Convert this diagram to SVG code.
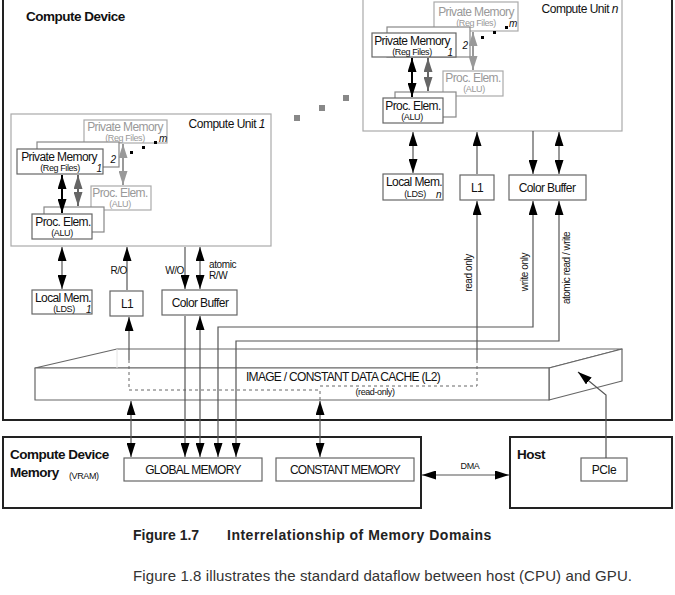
<svg xmlns="http://www.w3.org/2000/svg" width="675" height="595" viewBox="0 0 675 595">
<style>
text{font-family:"Liberation Sans",Arial,sans-serif;fill:#111}
.t12{font-size:12px;letter-spacing:-0.6px}
.t10{font-size:10px;letter-spacing:-0.4px}
.t9{font-size:9px;letter-spacing:-0.4px}
.m{text-anchor:middle}
.e{text-anchor:end}
.b{font-weight:bold;font-size:13.5px;letter-spacing:-0.5px}
.g{fill:#999}
.i{font-style:italic}
.box{fill:#fff;stroke:#666;stroke-width:1.2}
.gbox{fill:#fff;stroke:#aaa;stroke-width:1.2}
.mbox{fill:#fff;stroke:#888;stroke-width:1.2}
.frame{fill:none;stroke:#222;stroke-width:2}
.cu{fill:#fff;stroke:#aaa;stroke-width:1.2}
.c{fill:none;stroke:#555;stroke-width:1.2}
.d{fill:none;stroke:#666;stroke-width:1;stroke-dasharray:3 3}
.ak{stroke:#000;stroke-width:2;fill:none}
.ag{stroke:#666;stroke-width:2;fill:none}
.al{stroke:#999;stroke-width:2;fill:none}
.slab{fill:#fff;stroke:#666;stroke-width:1.2;stroke-linejoin:round}
.cap{font-size:14px;font-weight:bold;fill:#222}
.body{font-size:15px;fill:#333;letter-spacing:0.1px}
</style>
<defs>
<marker id="a" markerUnits="userSpaceOnUse" markerWidth="14" markerHeight="9" viewBox="0 0 14 9" refX="14" refY="4.5" orient="auto-start-reverse"><path d="M0,0L14,4.5L0,9z" fill="#000"/></marker>
<marker id="ag" markerUnits="userSpaceOnUse" markerWidth="14" markerHeight="9" viewBox="0 0 14 9" refX="14" refY="4.5" orient="auto-start-reverse"><path d="M0,0L14,4.5L0,9z" fill="#666"/></marker>
<marker id="al" markerUnits="userSpaceOnUse" markerWidth="14" markerHeight="9" viewBox="0 0 14 9" refX="14" refY="4.5" orient="auto-start-reverse"><path d="M0,0L14,4.5L0,9z" fill="#999"/></marker>
</defs>
<rect width="675" height="595" fill="#fff"/>

<g id="compute-device">
<rect class="frame" x="3" y="-5" width="669" height="425"/>
<text class="b" x="26" y="21">Compute Device</text>
<rect x="294" y="115" width="6" height="6" fill="#888"/>
<rect x="319" y="105" width="6" height="6" fill="#888"/>
<rect x="343" y="95" width="6" height="6" fill="#888"/>
</g>

<g id="compute-unit-n">
<rect class="cu" x="363" y="-5" width="259" height="136"/>
<text class="t12 e" x="618" y="13" style="letter-spacing:-0.5px">Compute Unit <tspan class="i">n</tspan></text>
<rect class="gbox" x="434" y="2" width="84" height="29"/>
<text class="t12 m g" x="476" y="16">Private Memory</text>
<text class="t9 m g" x="476" y="26">(Reg Files)</text>
<text class="t10 i" x="509" y="27">m</text>
<rect x="505" y="26" width="3" height="3" fill="#000"/>
<rect x="493" y="31" width="3" height="3" fill="#000"/>
<rect x="481" y="36" width="3" height="3" fill="#000"/>
<rect class="mbox" x="387" y="27" width="83" height="30"/>
<text class="t10 i m" x="465" y="49">2</text>
<rect class="box" x="372" y="33" width="84" height="24"/>
<text class="t12 m" x="412" y="45">Private Memory</text>
<text class="t9 m" x="412" y="55">(Reg Files)</text>
<text class="t10 i m" x="450" y="56">1</text>
<rect class="gbox" x="443" y="71" width="60" height="25"/>
<text class="t12 m g" x="473" y="82">Proc. Elem.</text>
<text class="t9 m g" x="474" y="92">(ALU)</text>
<rect class="mbox" x="395" y="92" width="61" height="25"/>
<rect class="box" x="383" y="98" width="60" height="25"/>
<text class="t12 m" x="413" y="110">Proc. Elem.</text>
<text class="t9 m" x="412" y="120">(ALU)</text>
<line class="al" x1="473" y1="32" x2="473" y2="70" marker-start="url(#al)" marker-end="url(#al)"/>
<line class="ag" x1="428" y1="58" x2="428" y2="91" marker-start="url(#ag)" marker-end="url(#ag)"/>
<line class="ak" x1="412" y1="58" x2="412" y2="97" marker-start="url(#a)" marker-end="url(#a)"/>
</g>

<g id="compute-unit-1">
<rect class="cu" x="11" y="114" width="260" height="132"/>
<text class="t12 e" x="265" y="128" style="letter-spacing:-0.5px">Compute Unit <tspan class="i">1</tspan></text>
<rect class="gbox" x="84" y="120" width="83" height="23"/>
<text class="t12 m g" x="125" y="131">Private Memory</text>
<text class="t9 m g" x="125" y="141">(Reg Files)</text>
<text class="t10 i" x="159" y="142">m</text>
<rect x="154" y="141" width="3" height="3" fill="#000"/>
<rect x="142" y="146" width="3" height="3" fill="#000"/>
<rect x="130" y="151" width="3" height="3" fill="#000"/>
<rect class="mbox" x="37" y="142" width="82" height="25"/>
<text class="t10 i m" x="113" y="163">2</text>
<rect class="box" x="17" y="149" width="86" height="25"/>
<text class="t12 m" x="59" y="161">Private Memory</text>
<text class="t9 m" x="60" y="171">(Reg Files)</text>
<text class="t10 i m" x="99" y="172">1</text>
<rect class="gbox" x="91" y="186" width="60" height="24"/>
<text class="t12 m g" x="120" y="197">Proc. Elem.</text>
<text class="t9 m g" x="120" y="207">(ALU)</text>
<rect class="mbox" x="44" y="207" width="60" height="25"/>
<rect class="box" x="32" y="214" width="60" height="25"/>
<text class="t12 m" x="63" y="226">Proc. Elem.</text>
<text class="t9 m" x="62" y="236">(ALU)</text>
<line class="al" x1="123" y1="144" x2="123" y2="185" marker-start="url(#al)" marker-end="url(#al)"/>
<line class="ag" x1="78" y1="175" x2="78" y2="206" marker-start="url(#ag)" marker-end="url(#ag)"/>
<line class="ak" x1="62" y1="175" x2="62" y2="213" marker-start="url(#a)" marker-end="url(#a)"/>
</g>

<g id="local-mem-1">
<rect class="box" x="32" y="290" width="60" height="24"/>
<text class="t12 m" x="63" y="302">Local Mem.</text>
<text class="t9 m" x="64" y="312">(LDS)</text>
<text class="t10 i" x="86" y="313">1</text>
</g>
<g id="l1-1">
<rect class="box" x="110" y="291" width="33" height="25"/>
<text class="t12 m" x="127" y="308">L1</text>
</g>
<g id="color-buffer-1">
<rect class="box" x="162" y="290" width="75" height="25"/>
<text class="t12 m" x="200" y="307">Color Buffer</text>
</g>

<g id="local-mem-n">
<rect class="box" x="383" y="174" width="60" height="26"/>
<text class="t12 m" x="414" y="186">Local Mem.</text>
<text class="t9 m" x="415" y="197">(LDS)</text>
<text class="t10 i" x="436" y="198">n</text>
</g>
<g id="l1-n">
<rect class="box" x="460" y="175" width="34" height="25"/>
<text class="t12 m" x="477" y="192">L1</text>
</g>
<g id="color-buffer-n">
<rect class="box" x="509" y="175" width="77" height="25"/>
<text class="t12 m" x="547" y="192">Color Buffer</text>
</g>

<g id="l2-cache">
<path class="slab" d="M35,368L117,349H622L549,368z"/>
<path class="slab" d="M549,368L622,349V381L549,400z"/>
<rect class="slab" x="35" y="368" width="514" height="32"/>
<line x1="117" y1="349" x2="117" y2="368" stroke="#e4e4e4" stroke-width="1"/>
<text class="t12 m" x="343" y="381" style="letter-spacing:-0.7px">IMAGE / CONSTANT DATA CACHE (L2)</text>
<text class="t9 m" x="375" y="395">(read-only)</text>
</g>

<g id="compute-device-memory">
<rect class="frame" x="3" y="437" width="418" height="71"/>
<text class="b" x="10" y="459">Compute Device</text>
<text class="b" x="10" y="477">Memory</text>
<text class="t9" x="69" y="479">(VRAM)</text>
</g>
<g id="global-memory">
<rect class="box" x="124" y="458" width="138" height="23"/>
<text class="t12 m" x="193" y="474" style="letter-spacing:-0.7px">GLOBAL MEMORY</text>
</g>
<g id="constant-memory">
<rect class="box" x="276" y="458" width="138" height="23"/>
<text class="t12 m" x="345" y="474" style="letter-spacing:-0.8px">CONSTANT MEMORY</text>
</g>
<g id="host">
<rect class="frame" x="510" y="437" width="162" height="71"/>
<text class="b" x="517" y="459">Host</text>
</g>
<g id="pcie">
<rect class="box" x="581" y="458" width="46" height="23"/>
<text class="t12 m" x="604" y="474">PCIe</text>
</g>

<g id="connectors">
<line class="c" x1="62" y1="247" x2="62" y2="289" marker-start="url(#a)" marker-end="url(#a)"/>
<line class="c" x1="127" y1="290" x2="127" y2="247" marker-end="url(#a)"/>
<line class="c" x1="185" y1="247" x2="185" y2="289" marker-end="url(#a)"/>
<line class="c" x1="200" y1="247" x2="200" y2="289" marker-start="url(#a)" marker-end="url(#a)"/>
<text class="t10 e" x="127" y="274">R/O</text>
<text class="t10 e" x="184" y="274">W/O</text>
<text class="t10" x="209" y="268">atomic</text>
<text class="t10" x="209" y="279">R/W</text>

<line class="c" x1="413" y1="132" x2="413" y2="173" marker-start="url(#a)" marker-end="url(#a)"/>
<line class="c" x1="477" y1="174" x2="477" y2="132" marker-end="url(#a)"/>
<line class="c" x1="533" y1="131" x2="533" y2="174" marker-end="url(#a)"/>
<line class="c" x1="559" y1="132" x2="559" y2="174" marker-start="url(#a)" marker-end="url(#a)"/>

<path class="c" d="M129,360V317" marker-end="url(#a)"/>
<path class="d" d="M129,360V390H320V400"/>
<path class="d" d="M320,386H477V360"/>
<path class="c" d="M477,360V201" marker-end="url(#a)"/>

<path class="c" d="M185,316V457" marker-end="url(#a)"/>
<path class="c" d="M200,316V457" marker-start="url(#a)" marker-end="url(#a)"/>
<path class="c" d="M218,457V327H533V201" marker-start="url(#a)" marker-end="url(#a)"/>
<path class="c" d="M236,457V341H559V201" marker-start="url(#a)" marker-end="url(#a)"/>
<path class="c" d="M131,401V457" marker-start="url(#a)" marker-end="url(#a)"/>
<path class="c" d="M320,401V457" marker-start="url(#a)" marker-end="url(#a)"/>
<path class="c" d="M422,475H509" marker-start="url(#a)" marker-end="url(#a)"/>
<text class="t9 m" x="470" y="469">DMA</text>
<path class="c" d="M606,458V395L578,372" marker-end="url(#a)"/>

<text class="t10 m" transform="translate(472,273) rotate(-90)">read only</text>
<text class="t10 m" transform="translate(528,272) rotate(-90)">write only</text>
<text class="t10 m" transform="translate(570,268) rotate(-90)" style="letter-spacing:-0.5px">atomic read / write</text>
</g>

<text class="cap" x="133" y="540">Figure 1.7</text>
<text class="cap" x="227" y="540" style="letter-spacing:0.5px">Interrelationship of Memory Domains</text>
<text class="body" x="133" y="581">Figure 1.8 illustrates the standard dataflow between host (CPU) and GPU.</text>
</svg>
